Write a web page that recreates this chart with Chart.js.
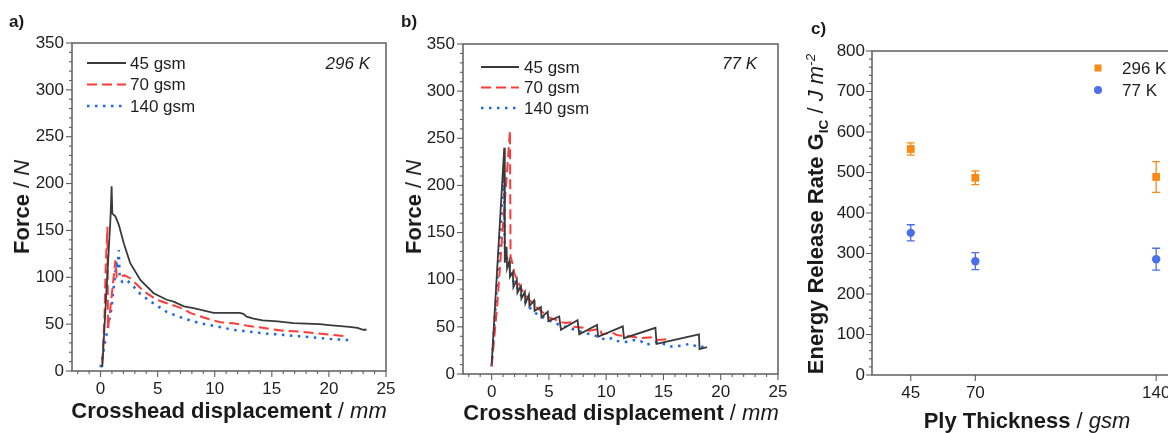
<!DOCTYPE html>
<html><head><meta charset="utf-8">
<script src="https://cdn.jsdelivr.net/npm/chart.js@4.4.0/dist/chart.umd.min.js"></script>
<style>
html,body{margin:0;padding:0;background:#fff;width:1168px;height:433px;overflow:hidden;position:relative;font-family:'Liberation Sans',Arial,Helvetica,sans-serif;color:#1a1a1a}
canvas{position:absolute;top:0}
.t{position:absolute;white-space:nowrap;line-height:1;transform:translate(-50%,-50%)}
.ax{font-size:22px}
.ax b{font-weight:bold}
.rot{transform:translate(-50%,-50%) rotate(-90deg)}
.pl{position:absolute;font-weight:bold;font-size:17px;line-height:1}
sub,sup{font-size:0.62em;line-height:0}
</style></head>
<body>
<canvas id="ca" width="400" height="433" style="left:0"></canvas>
<canvas id="cb" width="400" height="433" style="left:400px"></canvas>
<canvas id="cc" width="400" height="433" style="left:790px"></canvas>

<div class="pl" style="left:9px;top:13px">a)</div>
<div class="pl" style="left:401px;top:13px">b)</div>
<div class="pl" style="left:811px;top:20px">c)</div>

<div class="t ax rot" style="left:22px;top:207px"><b>Force</b> / <i>N</i></div>
<div class="t ax" style="left:229px;top:411px"><b>Crosshead displacement</b> / <i>mm</i></div>
<div class="t ax rot" style="left:414px;top:207px"><b>Force</b> / <i>N</i></div>
<div class="t ax" style="left:621px;top:413px"><b>Crosshead displacement</b> / <i>mm</i></div>
<div class="t ax rot" style="left:816px;top:214px"><b>Energy Release Rate G<sub>IC</sub></b> / <i>J m<sup>-2</sup></i></div>
<div class="t ax" style="left:1027px;top:421px"><b>Ply Thickness</b> / <i>gsm</i></div>

<script>
// ---------- DATA ----------
const seriesLabels = ['45 gsm', '70 gsm', '140 gsm'];
const xTickLabels = [0, 5, 10, 15, 20, 25];

// Panel a) 296 K : [displacement mm, force N]
const a45 = [[0.15,4],[0.87,163],[0.97,197],[1.03,168],[1.3,165],[1.6,156],[2.04,136],[2.6,115],[3.5,97],[4.65,83],[5.8,76],[6.4,74],[7.3,69],[8.15,67],[9.9,62],[12.2,62],[12.5,61],[12.8,58],[13.4,56],[14.2,54],[15.5,53],[16.9,51],[19.2,50],[20,49],[21.8,47],[22.5,46],[23.0,44],[23.3,44]];
const a70 = [[0.15,8],[0.35,60],[0.45,110],[0.6,154],[0.65,45],[0.87,68],[1.3,118],[1.42,100],[1.7,101],[2.1,102],[2.6,99],[3.2,92],[3.8,85],[4.9,76],[6.4,70],[7.3,66],[7.85,62],[9.3,56],[10.5,52],[11.6,51],[13,48],[14.5,45.5],[16,43],[17.4,42],[19,40],[20.3,38.5],[21.5,37]];
const a140 = [[0,4],[0.3,24],[0.6,44],[0.95,66],[1.2,95],[1.42,118],[1.48,108],[1.6,129],[1.68,100],[1.9,95],[2.3,97],[2.9,90],[3.5,82],[4.4,74],[5.8,63],[7.3,56],[8.7,51],[10.2,47.6],[11.6,44],[13,42],[14.5,40],[16,38.5],[17.4,37],[19,35.5],[20.3,34],[21.7,33]];

// Panel b) 77 K
const b45 = [[0,10],[1.1,240],[1.15,118],[1.3,135],[1.35,112],[1.55,120],[1.6,103],[1.85,108],[1.9,92],[2.2,100],[2.25,86],[2.55,93],[2.6,80],[2.9,87],[2.95,75],[3.25,84],[3.3,72],[3.7,78],[3.75,67],[4.3,71],[4.35,60],[4.9,66],[4.95,56],[5.9,61],[6.05,47],[7.5,57],[7.65,42],[9.2,52],[9.3,39.5],[11.45,50.5],[11.55,38],[14.3,49],[14.4,32],[18.1,42],[18.15,26.5],[18.8,28.5]];
const b70 = [[0,8],[0.5,75],[1.0,160],[1.35,215],[1.6,258],[1.65,125],[1.8,118],[2.0,106],[2.3,98],[2.6,90],[3.0,83],[3.5,76],[4.0,70],[4.5,65],[5.0,60],[5.5,58],[6.0,55],[6.5,54],[7.0,55],[7.2,50],[8.0,49],[8.5,46],[9.5,48],[9.6,42],[10.5,44],[11,41],[12,40],[13,38],[14,39],[14.5,36],[15.3,37],[15.5,36]];
const b140 = [[0,8],[1.08,210],[1.15,139],[1.3,125],[1.5,115],[1.8,100],[2.1,95],[2.5,85],[3.0,75],[3.5,68],[4.0,63],[4.5,60],[5.0,57],[5.5,54],[6.0,52],[6.5,50],[7.0,48],[8.0,44],[9.0,41],[10,36],[10.5,38],[11,35],[11.8,34],[12.5,36],[13,35],[13.5,31],[14.3,34],[15,32],[15.5,29],[16.5,30],[17.3,32],[18.2,28],[18.7,30]];

// Panel c) energy release rate
const plyThickness = [45, 70, 140];
const g296 = [558, 487, 489];
const g296err = [15, 17, 38];
const g77 = [351, 281, 286];
const g77err = [20, 21, 27];
const tempLabels = ['296 K', '77 K'];

// ---------- STYLE ----------
const AXIS = '#5e5e5e';
const TXT = '#1e1e1e';
const FONT = "'Liberation Sans', Arial, Helvetica, sans-serif";
const lineStyles = [
  {color:'#3a3a3a', width:1.8, dash:[]},
  {color:'#ff3a3a', width:2, dash:[10,5]},
  {color:'#1f66e5', width:2.5, dash:[2.5,5.5]}
];
const ORANGE = '#f98a14', ROYAL = '#4a6fe6';

const deco = {
  id: 'deco',
  beforeDatasetsDraw(chart, args, o) {
    if (!o.errors) return;
    const ctx = chart.ctx, xs = chart.scales.x, ys = chart.scales.y;
    ctx.save();
    o.errors.forEach((errs, di) => {
      const ds = chart.data.datasets[di];
      ctx.strokeStyle = ds.borderColor; ctx.lineWidth = 1.3;
      ds.data.forEach((p, i) => {
        const x = xs.getPixelForValue(p.x);
        const y1 = ys.getPixelForValue(p.y - errs[i]);
        const y2 = ys.getPixelForValue(p.y + errs[i]);
        ctx.beginPath();
        ctx.moveTo(x, y1); ctx.lineTo(x, y2);
        ctx.moveTo(x - 4, y1); ctx.lineTo(x + 4, y1);
        ctx.moveTo(x - 4, y2); ctx.lineTo(x + 4, y2);
        ctx.stroke();
      });
    });
    ctx.restore();
  },
  afterDraw(chart, args, o) {
    const ctx = chart.ctx, a = chart.chartArea, xs = chart.scales.x, ys = chart.scales.y;
    ctx.save();
    ctx.strokeStyle = AXIS; ctx.lineWidth = 1.5;
    ctx.strokeRect(a.left, a.top, a.right - a.left, a.bottom - a.top);
    ctx.lineWidth = 1.1;
    const isMajor = (v, m) => Math.abs(v / m - Math.round(v / m)) < 1e-6;
    for (let v = Math.ceil(ys.min / o.yMinor) * o.yMinor; v <= ys.max + 1e-9; v += o.yMinor) {
      const p = ys.getPixelForValue(v), L = isMajor(v, o.yMajor) ? 6 : 3;
      ctx.beginPath(); ctx.moveTo(a.left - L, p); ctx.lineTo(a.left, p); ctx.stroke();
    }
    if (o.xList) {
      o.xList.forEach(v => { const p = xs.getPixelForValue(v);
        ctx.beginPath(); ctx.moveTo(p, a.bottom); ctx.lineTo(p, a.bottom + 6); ctx.stroke(); });
    } else {
      for (let v = Math.ceil(xs.min / o.xMinor) * o.xMinor; v <= xs.max + 1e-9; v += o.xMinor) {
        const p = xs.getPixelForValue(v), L = isMajor(v, o.xMajor) ? 6 : 3;
        ctx.beginPath(); ctx.moveTo(p, a.bottom); ctx.lineTo(p, a.bottom + L); ctx.stroke();
      }
    }
    // legend
    ctx.font = '17px ' + FONT; ctx.fillStyle = TXT; ctx.textBaseline = 'middle'; ctx.textAlign = 'left';
    if (o.legend) {
      const L = o.legend;
      chart.data.datasets.forEach((ds, i) => {
        const y = L.y + i * L.dy;
        ctx.save();
        if (L.kind === 'line') {
          ctx.strokeStyle = ds.borderColor; ctx.lineWidth = ds.borderWidth; ctx.setLineDash(ds.borderDash || []);
          ctx.beginPath(); ctx.moveTo(L.x1, y); ctx.lineTo(L.x2, y); ctx.stroke();
        } else {
          ctx.fillStyle = ds.backgroundColor;
          if (ds.pointStyle === 'rect') ctx.fillRect(L.x1 - 3.5, y - 3.5, 7, 7);
          else { ctx.beginPath(); ctx.arc(L.x1, y, 4, 0, Math.PI * 2); ctx.fill(); }
        }
        ctx.restore();
        ctx.fillText(ds.label, L.tx, y + 1);
      });
    }
    if (o.note) {
      ctx.font = 'italic 17px ' + FONT; ctx.textAlign = 'right';
      ctx.fillText(o.note.text, o.note.x, o.note.y);
    }
    ctx.restore();
  }
};

const tickFont = {family: FONT, size: 17};

function forceChart(id, sets, geo, note) {
  return new Chart(document.getElementById(id), {
    type: 'line',
    data: {datasets: sets.map((d, i) => ({
      label: seriesLabels[i],
      data: d.map(p => ({x: p[0], y: p[1]})),
      borderColor: lineStyles[i].color, borderWidth: lineStyles[i].width, borderDash: lineStyles[i].dash,
      pointRadius: 0, tension: 0, fill: false
    }))},
    options: {
      animation: false, responsive: false, devicePixelRatio: 1,
      layout: {padding: {top: geo.top, right: geo.right, left: 0, bottom: 0}},
      scales: {
        x: {type: 'linear', min: -2.5, max: 25,
          afterBuildTicks: s => { s.ticks = xTickLabels.map(v => ({value: v})); },
          grid: {color: 'transparent', tickColor: 'transparent', tickLength: 5, drawOnChartArea: false},
          border: {display: false},
          ticks: {font: tickFont, color: TXT, padding: 3, maxRotation: 0, autoSkip: false},
          afterFit: s => { s.height = geo.xh; }},
        y: {type: 'linear', min: 0, max: 350,
          ticks: {stepSize: 50, font: tickFont, color: TXT, padding: 3},
          grid: {color: 'transparent', tickColor: 'transparent', tickLength: 5, drawOnChartArea: false},
          border: {display: false},
          afterFit: s => { s.width = geo.yw; }}
      },
      plugins: {legend: {display: false}, tooltip: {enabled: false},
        deco: {yMinor: 10, yMajor: 50, xMinor: 1, xMajor: 5,
          legend: {kind: 'line', x1: geo.lx1, x2: geo.lx2, tx: geo.ltx, y: geo.ly, dy: geo.ldy},
          note: note}}
    },
    plugins: [deco]
  });
}

forceChart('ca', [a45, a70, a140], {top: 43, right: 14, xh: 62, yw: 72, lx1: 87, lx2: 126, ltx: 130, ly: 63, ldy: 21.5}, {text: '296 K', x: 370, y: 64});
forceChart('cb', [b45, b70, b140], {top: 44, right: 22, xh: 59, yw: 63, lx1: 81, lx2: 119, ltx: 124, ly: 67, ldy: 20.5}, {text: '77 K', x: 357, y: 64});

new Chart(document.getElementById('cc'), {
  type: 'scatter',
  data: {datasets: [
    {label: tempLabels[0], data: plyThickness.map((t, i) => ({x: t, y: g296[i]})), pointStyle: 'rect', pointRadius: 5.5,
      backgroundColor: ORANGE, borderColor: ORANGE, borderWidth: 0},
    {label: tempLabels[1], data: plyThickness.map((t, i) => ({x: t, y: g77[i]})), pointStyle: 'circle', pointRadius: 4.2,
      backgroundColor: ROYAL, borderColor: ROYAL, borderWidth: 0}
  ]},
  options: {
    animation: false, responsive: false, devicePixelRatio: 1,
    layout: {padding: {top: 51, right: 8, left: 0, bottom: 0}},
    scales: {
      x: {type: 'linear', min: 30, max: 150,
        afterBuildTicks: s => { s.ticks = plyThickness.map(v => ({value: v})); },
        grid: {color: 'transparent', tickColor: 'transparent', tickLength: 5, drawOnChartArea: false},
        border: {display: false},
        ticks: {font: tickFont, color: TXT, padding: 3, maxRotation: 0, autoSkip: false},
        afterFit: s => { s.height = 58; }},
      y: {type: 'linear', min: 0, max: 800,
        ticks: {stepSize: 100, font: tickFont, color: TXT, padding: 2},
        grid: {color: 'transparent', tickColor: 'transparent', tickLength: 5, drawOnChartArea: false},
        border: {display: false},
        afterFit: s => { s.width = 82; }}
    },
    plugins: {legend: {display: false}, tooltip: {enabled: false},
      deco: {yMinor: 20, yMajor: 100, xList: plyThickness,
        errors: [g296err, g77err],
        legend: {kind: 'marker', x1: 1098 - 790, tx: 1122 - 790, y: 68, dy: 22}}}
  },
  plugins: [deco]
});
</script>
</body></html>
